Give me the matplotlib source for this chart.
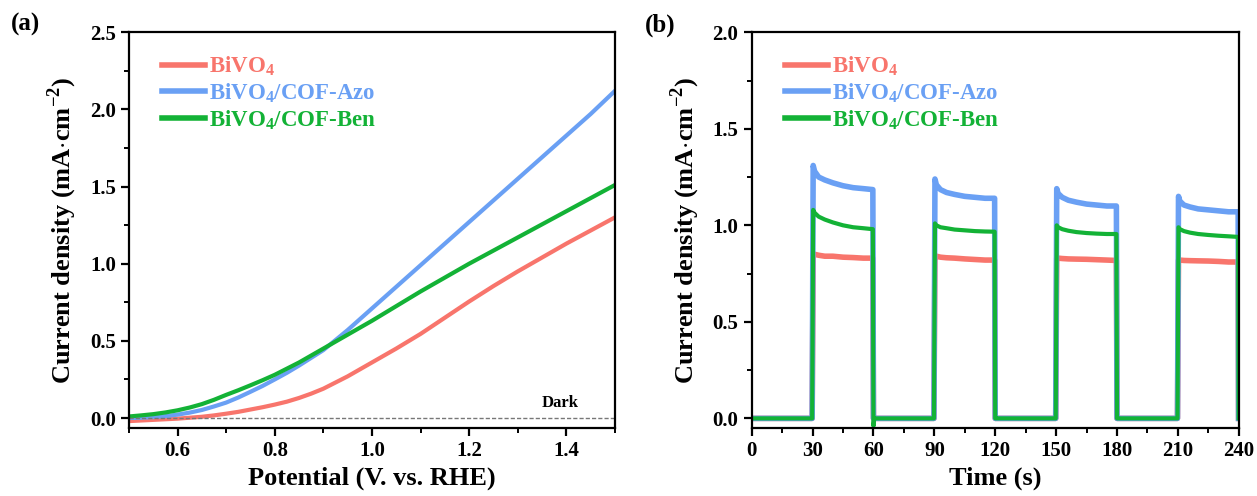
import matplotlib

matplotlib.use("Agg")

import matplotlib.pyplot as plt
import numpy as np
from matplotlib.ticker import MultipleLocator

plt.rcParams["font.family"] = ["Liberation Serif", "DejaVu Serif"]
plt.rcParams["font.weight"] = "bold"
plt.rcParams["mathtext.fontset"] = "custom"
plt.rcParams["mathtext.rm"] = "Liberation Serif:bold"
plt.rcParams["mathtext.bf"] = "Liberation Serif:bold"

RED = "#f8756c"
BLUE = "#6aa0f4"
GREEN = "#13b236"

labels = [r"BiVO$_\mathregular{4}$",
          r"BiVO$_\mathregular{4}$/COF-Azo",
          r"BiVO$_\mathregular{4}$/COF-Ben"]

# ---------- (a) LSV ----------
potential = [0.500, 0.525, 0.550, 0.575, 0.600, 0.625, 0.650, 0.675, 0.700, 0.725,
             0.750, 0.775, 0.800, 0.825, 0.850, 0.875, 0.900, 0.950, 1.000, 1.050,
             1.100, 1.150, 1.200, 1.250, 1.300, 1.350, 1.400, 1.450, 1.500]
j_bivo4 = [-0.020, -0.016, -0.012, -0.008, -0.004, 0.002, 0.008, 0.017, 0.028, 0.040,
           0.055, 0.070, 0.087, 0.106, 0.130, 0.158, 0.190, 0.270, 0.360, 0.450,
           0.545, 0.650, 0.755, 0.855, 0.950, 1.040, 1.130, 1.215, 1.300]
j_azo = [0.000, 0.002, 0.006, 0.012, 0.022, 0.035, 0.052, 0.075, 0.100, 0.133,
         0.170, 0.208, 0.250, 0.293, 0.340, 0.390, 0.440, 0.570, 0.710, 0.850,
         0.990, 1.130, 1.270, 1.410, 1.550, 1.690, 1.830, 1.970, 2.120]
j_ben = [0.010, 0.017, 0.025, 0.036, 0.050, 0.068, 0.090, 0.118, 0.150, 0.180,
         0.212, 0.245, 0.280, 0.320, 0.360, 0.405, 0.450, 0.540, 0.630, 0.725,
         0.820, 0.910, 1.000, 1.085, 1.170, 1.255, 1.340, 1.425, 1.510]

# ---------- (b) chopped i-t ----------
light_on = [30, 90, 150, 210]
period = 30
on_offsets = [0.3, 1, 3, 6, 10, 15, 20, 25, 29.7]
it_bivo4 = [
    [0.85, 0.85, 0.845, 0.84, 0.84, 0.835, 0.833, 0.83, 0.83],
    [0.84, 0.84, 0.835, 0.832, 0.83, 0.826, 0.823, 0.82, 0.82],
    [0.83, 0.83, 0.828, 0.826, 0.825, 0.824, 0.822, 0.82, 0.818],
    [0.82, 0.82, 0.818, 0.817, 0.816, 0.815, 0.813, 0.81, 0.81],
]
it_azo = [
    [1.31, 1.28, 1.25, 1.235, 1.22, 1.205, 1.195, 1.19, 1.185],
    [1.24, 1.21, 1.185, 1.17, 1.16, 1.15, 1.145, 1.14, 1.14],
    [1.19, 1.165, 1.145, 1.13, 1.12, 1.11, 1.105, 1.10, 1.10],
    [1.15, 1.125, 1.105, 1.095, 1.085, 1.08, 1.075, 1.07, 1.07],
]
it_ben = [
    [1.08, 1.065, 1.045, 1.03, 1.015, 1.0, 0.99, 0.985, 0.98],
    [1.01, 1.0, 0.99, 0.985, 0.978, 0.974, 0.97, 0.968, 0.967],
    [1.0, 0.99, 0.98, 0.972, 0.965, 0.96, 0.957, 0.955, 0.955],
    [0.99, 0.98, 0.97, 0.962, 0.955, 0.95, 0.946, 0.943, 0.94],
]
dark_dip_ben = -0.04   # small undershoot of COF-Ben when light turns off at 60 s


def build_trace(segments, dip=None):
    t, j = [0.0], [0.0]
    for k, (t0, seg) in enumerate(zip(light_on, segments)):
        t += [t0 - 0.2]
        j += [0.0]
        t += [t0 + o for o in on_offsets]
        j += seg
        t_off = t0 + period
        if t_off < 240:
            t += [t_off]
            j += [dip if (dip is not None and k == 0) else 0.0]
            t += [t_off + 0.4]
            j += [0.0]
        else:
            t += [239.9]
            j += [0.0]
    return np.array(t), np.array(j)


fig = plt.figure(figsize=(12.57, 4.96), dpi=100)
ax1 = fig.add_axes([0.1026, 0.137, 0.3866, 0.798])
ax2 = fig.add_axes([0.598, 0.137, 0.3875, 0.798])

# panel a
ax1.plot(potential, j_bivo4, color=RED, lw=3, label=labels[0])
ax1.plot(potential, j_azo, color=BLUE, lw=3, label=labels[1])
ax1.plot(potential, j_ben, color=GREEN, lw=3, label=labels[2])
ax1.axhline(0, color="#777777", lw=1, ls=(0, (3, 1.5)))
ax1.text(1.425, 0.045, "Dark", fontsize=12, fontweight="bold", ha="right", va="bottom")
ax1.set_xlim(0.5, 1.5)
ax1.set_ylim(-0.065, 2.5)
ax1.xaxis.set_major_locator(MultipleLocator(0.2))
ax1.xaxis.set_minor_locator(MultipleLocator(0.1))
ax1.yaxis.set_major_locator(MultipleLocator(0.5))
ax1.yaxis.set_minor_locator(MultipleLocator(0.25))
ax1.set_xticks([0.6, 0.8, 1.0, 1.2, 1.4])
ax1.set_xlabel("Potential (V. vs. RHE)", fontsize=19, fontweight="bold")

# panel b
for segs, color, lab, dip, lw in [(it_bivo4, RED, labels[0], None, 4),
                                  (it_azo, BLUE, labels[1], None, 4),
                                  (it_ben, GREEN, labels[2], dark_dip_ben, 3)]:
    t, j = build_trace(segs, dip)
    ax2.plot(t, j, color=color, lw=lw, label=lab)
ax2.set_xlim(0, 240)
ax2.set_ylim(-0.05, 2.0)
ax2.xaxis.set_major_locator(MultipleLocator(30))
ax2.xaxis.set_minor_locator(MultipleLocator(15))
ax2.yaxis.set_major_locator(MultipleLocator(0.5))
ax2.yaxis.set_minor_locator(MultipleLocator(0.25))
ax2.set_xlabel("Time (s)", fontsize=19, fontweight="bold")

for ax in (ax1, ax2):
    ax.set_ylabel(r"Current density (mA$\cdot$cm$^\mathregular{-2}$)", fontsize=19,
                  fontweight="bold", labelpad=8)
    for s in ax.spines.values():
        s.set_linewidth(1.6)
    ax.tick_params(which="major", direction="out", length=6, width=1.6,
                   labelsize=15, top=False, right=False)
    ax.tick_params(which="minor", direction="out", length=3.5, width=1.4,
                   top=False, right=False)
    leg = ax.legend(loc="upper left", frameon=False, fontsize=16.5, handlelength=1.9,
                    handletextpad=0.15, labelspacing=0.12, borderaxespad=0.4,
                    bbox_to_anchor=(0.03, 0.99), labelcolor="linecolor")
    for line in leg.get_lines():
        line.set_linewidth(4)

fig.text(0.02, 0.95, "(a)", fontsize=18, fontweight="bold", ha="center", va="center")
fig.text(0.525, 0.95, "(b)", fontsize=18, fontweight="bold", ha="center", va="center")

fig.savefig("out.png", dpi=100)
